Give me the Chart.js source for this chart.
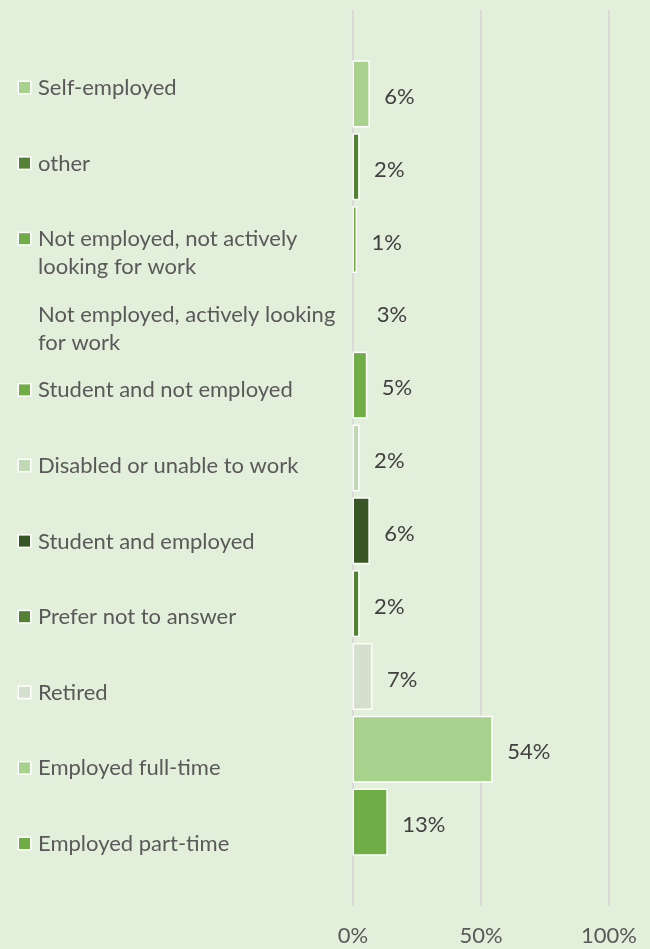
<!DOCTYPE html>
<html><head><meta charset="utf-8">
<script src="https://cdn.jsdelivr.net/npm/chart.js@4"></script>
<style>html,body{margin:0;padding:0;background:#E2EFDA;}canvas{display:block}</style>
</head><body>
<canvas id="c" width="650" height="949"></canvas>
<script>
// ---- data ----
const categories = [
  ['Self-employed'],
  ['other'],
  ['Not employed, not actively', 'looking for work'],
  ['Not employed, actively looking', 'for work'],
  ['Student and not employed'],
  ['Disabled or unable to work'],
  ['Student and employed'],
  ['Prefer not to answer'],
  ['Retired'],
  ['Employed full-time'],
  ['Employed part-time']
];
const values = [6, 2, 1, 3, 5, 2, 6, 2, 7, 54, 13];
const seriesColors = ['#A9D18E', '#548235', '#70AD47', 'rgba(0,0,0,0)', '#70AD47', '#C0D8B3', '#375623', '#548235', '#D4E0CD', '#A9D18E', '#70AD47'];
const tickValues = [0, 50, 100];

const NONE = 'rgba(0,0,0,0)';
const FONT = 'Lato, "Open Sans", sans-serif';
const FSIZE = 22;

const legendPlugin = {
  id: 'sideLegend',
  afterDraw(chart) {
    const ctx = chart.ctx;
    ctx.save();
    ctx.font = FSIZE + 'px ' + FONT;
    ctx.textBaseline = 'middle';
    ctx.textAlign = 'left';
    const y0 = 87, step = 75.6, lh = 28;
    chart.data.datasets.forEach((ds, i) => {
      const y = y0 + i * step;
      if (ds.backgroundColor !== NONE) {
        ctx.fillStyle = '#FFFFFF';
        ctx.fillRect(17.5, y - 6.5, 14, 14);
        ctx.fillStyle = ds.backgroundColor;
        ctx.fillRect(19, y - 5, 11, 11);
      }
      ctx.fillStyle = '#595959';
      ds.lines.forEach((t, k) => ctx.fillText(t, 38, y + 1 + k * lh));
    });
    ctx.restore();
  }
};

// white outline drawn outside each bar (as in the original)
const outlinePlugin = {
  id: 'barOutline',
  beforeDatasetsDraw(chart) {
    const ctx = chart.ctx;
    ctx.save();
    ctx.fillStyle = '#FFFFFF';
    chart.data.datasets.forEach((ds, i) => {
      if (ds.backgroundColor === NONE) return;
      const el = chart.getDatasetMeta(i).data[0];
      const p = el.getProps(['x', 'y', 'base', 'height'], true);
      const l = Math.min(p.x, p.base), r = Math.max(p.x, p.base);
      ctx.fillRect(l - 1.5, p.y - p.height / 2 - 1.5, r - l + 3, p.height + 3);
    });
    ctx.restore();
  }
};

const labelPlugin = {
  id: 'barLabels',
  afterDatasetsDraw(chart) {
    const ctx = chart.ctx;
    ctx.save();
    ctx.font = FSIZE + 'px ' + FONT;
    ctx.textBaseline = 'middle';
    ctx.textAlign = 'left';
    ctx.fillStyle = '#404040';
    chart.data.datasets.forEach((ds, i) => {
      const el = chart.getDatasetMeta(i).data[0];
      ctx.fillText(ds.data[0] + '%', el.x + 16, el.y + 3);
    });
    ctx.restore();
  }
};

function draw() {
  new Chart(document.getElementById('c'), {
    type: 'bar',
    data: {
      labels: [''],
      datasets: categories.map((lines, i) => ({
        label: lines.join(' '),
        lines: lines,
        data: [values[i]],
        backgroundColor: seriesColors[i],
        borderWidth: 0,
        categoryPercentage: 0.894,
        barPercentage: 0.88
      }))
    },
    options: {
      indexAxis: 'y',
      responsive: false,
      animation: false,
      devicePixelRatio: 1,
      layout: { padding: { left: 353, right: 41, top: 10, bottom: 0 } },
      plugins: { legend: { display: false }, tooltip: { enabled: false } },
      scales: {
        y: { display: false },
        x: {
          min: 0, max: 100,
          afterBuildTicks: (axis) => { axis.ticks = tickValues.map(v => ({ value: v })); },
          afterFit: (axis) => { axis.height = 43; axis.paddingLeft = 0; axis.paddingRight = 0; },
          grid: { color: '#D9D9D9', lineWidth: 2, drawTicks: false },
          border: { display: false },
          ticks: {
            padding: 17,
            color: '#595959',
            font: { family: FONT, size: FSIZE },
            callback: (v) => v + '%'
          }
        }
      }
    },
    plugins: [outlinePlugin, labelPlugin, legendPlugin]
  });
}
(document.fonts && document.fonts.load ? document.fonts.load(FSIZE + 'px Lato').catch(() => {}) : Promise.resolve()).then(draw);
</script>
</body></html>
